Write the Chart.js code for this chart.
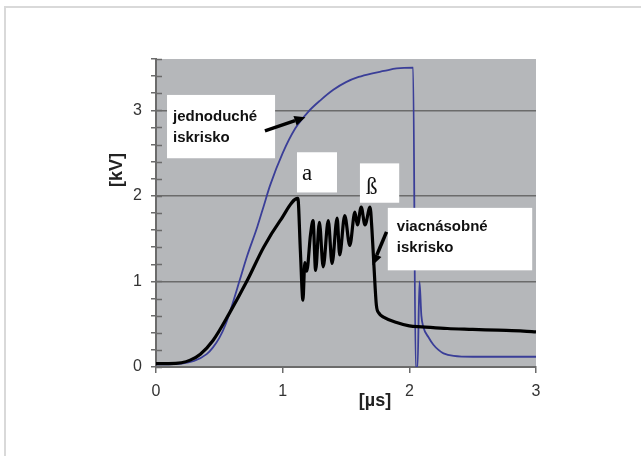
<!DOCTYPE html>
<html lang="sk">
<head>
    <meta charset="UTF-8">
    <title>Napätie na iskrisku</title>
    <script src="https://cdn.jsdelivr.net/npm/chart.js"></script>
    <style>
        body { margin: 0; background: #fff; }
        .wrap { position: relative; width: 641px; height: 456px; overflow: hidden; }
        .frame { position: absolute; left: 4px; top: 6px; width: 700px; height: 500px;
                 border-top: 2px solid #d9d9d9; border-left: 2px solid #d9d9d9; }
        canvas { position: absolute; left: 0; top: 0; }
    </style>
</head>
<body>
    <div class="wrap">
        <div class="frame"></div>
        <canvas id="chart" width="641" height="456"></canvas>
    </div>

    <script>
        // time [µs] and voltage [kV]
        const blackT = [0, 0.1, 0.2, 0.27, 0.35, 0.45, 0.58, 0.72, 0.85, 0.98,
            1.12, 1.14, 1.16, 1.175, 1.19, 1.22, 1.24, 1.26, 1.29, 1.32,
            1.36, 1.39, 1.43, 1.45, 1.49, 1.53, 1.57, 1.59, 1.62, 1.65,
            1.69, 1.705, 1.72, 1.74, 1.76, 1.8, 1.9, 2.0, 2.1, 2.3,
            2.5, 2.7, 2.9, 3.0];
        const blackKV = [0.04, 0.04, 0.05, 0.08, 0.15, 0.31, 0.63, 1.01, 1.40, 1.71,
            1.97, 1.35, 0.78, 1.22, 1.12, 1.55, 1.71, 1.13, 1.69, 1.17,
            1.71, 1.21, 1.74, 1.31, 1.77, 1.42, 1.81, 1.66, 1.87, 1.66,
            1.87, 1.6, 1.2, 0.72, 0.63, 0.58, 0.52, 0.48, 0.47, 0.45,
            0.44, 0.43, 0.42, 0.41];

        const blueT = [0, 0.2, 0.3, 0.4, 0.45, 0.5, 0.55, 0.6, 0.66, 0.72,
            0.8, 0.85, 0.9, 1.0, 1.1, 1.2, 1.3, 1.4, 1.5, 1.6,
            1.7, 1.8, 1.9, 2.03, 2.05, 2.065, 2.08, 2.095, 2.11, 2.15,
            2.19, 2.23, 2.27, 2.35, 2.5, 2.7, 3.0];
        const blueKV = [0.03, 0.04, 0.07, 0.15, 0.23, 0.34, 0.5, 0.72, 1.01, 1.3,
            1.64, 1.88, 2.12, 2.5, 2.79, 2.98, 3.12, 3.24, 3.33, 3.39,
            3.43, 3.46, 3.49, 3.5, 0.0, 0.0, 1.0, 0.6, 0.47, 0.35,
            0.26, 0.2, 0.16, 0.13, 0.12, 0.12, 0.12];

        const xTicks = [0, 1, 2, 3];
        const yLabels = [0, 1, 2, 3];

        const gridGray = '#6b6b6b';
        const plotGray = '#b5b7ba';

        function toPoints(ts, vs) {
            return ts.map((t, i) => ({ x: t, y: vs[i] }));
        }

        function isWhole(v) {
            return Math.abs(v - Math.round(v)) < 1e-6;
        }

        // text boxes and arrows, placed in data units
        const notes = [
            { box: [0.087, 3.18, 0.94, 2.44], lines: ['jednoduché', 'iskrisko'], bold: true, dx: 6, dy: [22, 43] },
            { box: [1.113, 2.51, 1.429, 2.04], lines: ['a'], bold: false, dx: 5, dy: [28] },
            { box: [1.61, 2.38, 1.92, 1.92], lines: ['ß'], bold: false, dx: 6, dy: [31] },
            { box: [1.83, 1.86, 2.97, 1.13], lines: ['viacnásobné', 'iskrisko'], bold: true, dx: 9, dy: [19, 40] }
        ];
        const arrows = [
            { from: [0.86, 2.76], to: [1.18, 2.92] },
            { from: [1.82, 1.58], to: [1.71, 1.19] }
        ];

        const plotBackground = {
            id: 'plotBackground',
            beforeDraw(chart) {
                const a = chart.chartArea;
                const ctx = chart.ctx;
                ctx.save();
                ctx.fillStyle = plotGray;
                ctx.fillRect(a.left, a.top, a.right - a.left, a.bottom - a.top);
                ctx.restore();
            }
        };

        const overlay = {
            id: 'overlay',
            afterDraw(chart) {
                const ctx = chart.ctx;
                const xs = chart.scales.x;
                const ys = chart.scales.y;
                const a = chart.chartArea;
                ctx.save();

                // inner half of the y tick marks
                ctx.strokeStyle = gridGray;
                ctx.lineWidth = 1.5;
                ys.ticks.forEach(t => {
                    const py = Math.round(ys.getPixelForValue(t.value)) + 0.5;
                    ctx.beginPath();
                    ctx.moveTo(a.left, py);
                    ctx.lineTo(a.left + 6, py);
                    ctx.stroke();
                });

                // boxes
                notes.forEach(n => {
                    const x0 = xs.getPixelForValue(n.box[0]);
                    const y0 = ys.getPixelForValue(n.box[1]);
                    const x1 = xs.getPixelForValue(n.box[2]);
                    const y1 = ys.getPixelForValue(n.box[3]);
                    ctx.fillStyle = '#ffffff';
                    ctx.fillRect(x0, y0, x1 - x0, y1 - y0);
                    ctx.fillStyle = '#111';
                    if (n.bold) {
                        ctx.font = 'bold 15px "Liberation Sans", Arial, sans-serif';
                        ctx.textBaseline = 'middle';
                    } else {
                        ctx.font = '23px "Liberation Serif", "Times New Roman", serif';
                        ctx.textBaseline = 'alphabetic';
                    }
                    ctx.textAlign = 'left';
                    n.lines.forEach((s, i) => ctx.fillText(s, x0 + n.dx, y0 + n.dy[i]));
                });

                // arrows
                ctx.strokeStyle = '#000';
                ctx.fillStyle = '#000';
                ctx.lineWidth = 3.5;
                arrows.forEach(ar => {
                    const fx = xs.getPixelForValue(ar.from[0]);
                    const fy = ys.getPixelForValue(ar.from[1]);
                    const tx = xs.getPixelForValue(ar.to[0]);
                    const ty = ys.getPixelForValue(ar.to[1]);
                    const ang = Math.atan2(ty - fy, tx - fx);
                    const hl = 11, hw = 5;
                    const bx = tx - hl * Math.cos(ang), by = ty - hl * Math.sin(ang);
                    ctx.beginPath();
                    ctx.moveTo(fx, fy);
                    ctx.lineTo(bx, by);
                    ctx.stroke();
                    ctx.beginPath();
                    ctx.moveTo(tx, ty);
                    ctx.lineTo(bx + hw * Math.sin(ang), by - hw * Math.cos(ang));
                    ctx.lineTo(bx - hw * Math.sin(ang), by + hw * Math.cos(ang));
                    ctx.closePath();
                    ctx.fill();
                });

                // axis titles
                ctx.fillStyle = '#222';
                ctx.font = 'bold 18px "Liberation Sans", Arial, sans-serif';
                ctx.textAlign = 'center';
                ctx.textBaseline = 'middle';
                ctx.fillText('[µs]', 375, 401);
                ctx.translate(117, 170);
                ctx.rotate(-Math.PI / 2);
                ctx.fillText('[kV]', 0, 0);

                ctx.restore();
            }
        };

        const ctx = document.getElementById('chart').getContext('2d');
        new Chart(ctx, {
            type: 'line',
            data: {
                datasets: [{
                    label: 'viacnásobné iskrisko',
                    data: toPoints(blackT, blackKV),
                    borderColor: '#000000',
                    borderWidth: 3.2,
                    pointRadius: 0,
                    cubicInterpolationMode: 'monotone'
                }, {
                    label: 'jednoduché iskrisko',
                    data: toPoints(blueT, blueKV),
                    borderColor: '#3a3e98',
                    borderWidth: 1.8,
                    pointRadius: 0,
                    cubicInterpolationMode: 'monotone'
                }]
            },
            options: {
                responsive: false,
                animation: false,
                layout: { padding: { left: 116, right: 105, top: 59, bottom: 49 } },
                plugins: {
                    legend: { display: false },
                    tooltip: { enabled: false }
                },
                scales: {
                    x: {
                        type: 'linear',
                        min: 0,
                        max: 3,
                        afterFit: s => { s.height = 40; },
                        afterBuildTicks: s => { s.ticks = xTicks.map(v => ({ value: v })); },
                        ticks: {
                            color: '#333',
                            padding: 9,
                            font: { family: '"Liberation Sans", Arial, sans-serif', size: 16 }
                        },
                        grid: {
                            drawOnChartArea: false,
                            tickColor: gridGray,
                            tickLength: 6,
                            lineWidth: 1.5
                        },
                        border: { color: gridGray, width: 2 }
                    },
                    y: {
                        min: 0,
                        max: 3.6,
                        afterFit: s => { s.width = 40; },
                        ticks: {
                            stepSize: 0.2,
                            autoSkip: false,
                            color: '#333',
                            padding: 9,
                            font: { family: '"Liberation Sans", Arial, sans-serif', size: 16 },
                            callback: v => (isWhole(v) && yLabels.includes(Math.round(v))) ? String(Math.round(v)) : ''
                        },
                        grid: {
                            color: c => (c.tick && isWhole(c.tick.value) && c.tick.value > 0.5 && c.tick.value < 3.5) ? gridGray : 'rgba(0,0,0,0)',
                            lineWidth: 1.5,
                            tickColor: gridGray,
                            tickLength: 5
                        },
                        border: { color: gridGray, width: 2 }
                    }
                }
            },
            plugins: [plotBackground, overlay]
        });
    </script>
</body>
</html>
